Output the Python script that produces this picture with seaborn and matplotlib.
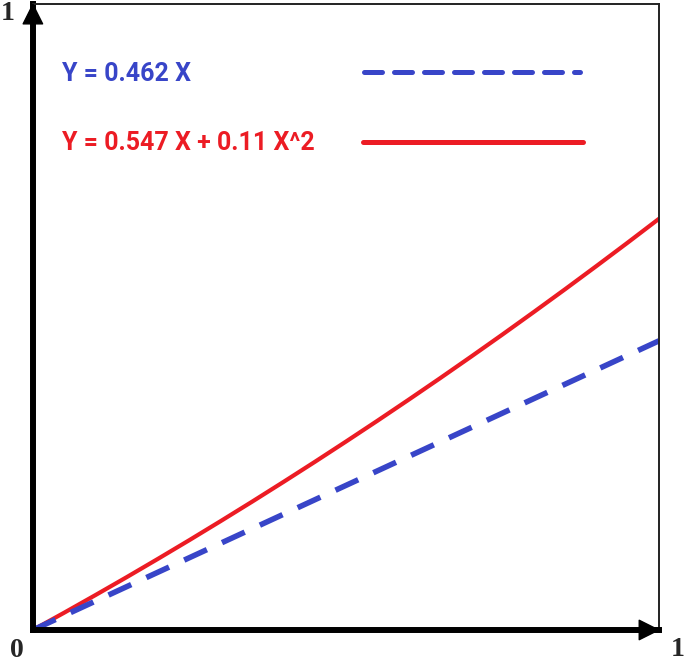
import seaborn as sns
import pandas as pd
import matplotlib.pyplot as plt
import numpy as np

# values
x_lin = [0.0, 1.0]
y_lin = [0.0, 0.462]
x_quad = [0.0, 0.05, 0.1, 0.15, 0.2, 0.25, 0.3, 0.35, 0.4, 0.45, 0.5,
          0.55, 0.6, 0.65, 0.7, 0.75, 0.8, 0.85, 0.9, 0.95, 1.0]
y_quad = [0.0, 0.0276, 0.0558, 0.0845, 0.1138, 0.1436, 0.1740, 0.2049, 0.2364, 0.2684, 0.3010,
          0.3341, 0.3678, 0.4020, 0.4368, 0.4721, 0.5080, 0.5444, 0.5814, 0.6189, 0.657]
labels = ['Y = 0.462 X', 'Y = 0.547 X + 0.11 X^2']

blue = '#3845c8'
red = '#ec1c24'

sns.set_style('white')
fig = plt.figure(figsize=(6.85, 6.63), dpi=100)
ax = fig.add_axes([0.048, 0.0498, 0.914, 0.944])

df_lin = pd.DataFrame({'x': x_lin, 'y': y_lin})
df_quad = pd.DataFrame({'x': x_quad, 'y': y_quad})
sns.lineplot(data=df_quad, x='x', y='y', ax=ax, color=red, lw=3.0)
sns.lineplot(data=df_lin, x='x', y='y', ax=ax, color=blue, lw=4.0,
             linestyle=(0, (4.5, 3.0)))

ax.set_xlim(0, 1)
ax.set_ylim(0, 1)
ax.set_xticks([])
ax.set_yticks([])
ax.set_xlabel('')
ax.set_ylabel('')

for s in ['top', 'right']:
    ax.spines[s].set_linewidth(1.4)
    ax.spines[s].set_color('#222222')
for s in ['left', 'bottom']:
    ax.spines[s].set_linewidth(4.3)
    ax.spines[s].set_color('black')
    ax.spines[s].set_capstyle('projecting')

# arrow heads
arr = dict(arrowstyle='-|>,head_length=0.7,head_width=0.35', mutation_scale=20,
           lw=1, color='black', shrinkA=0, shrinkB=0)
ax.annotate('', xy=(0, 1.002), xytext=(0, 0.95), xycoords='axes fraction',
            arrowprops=arr, annotation_clip=False)
ax.annotate('', xy=(1.002, 0), xytext=(0.95, 0), xycoords='axes fraction',
            arrowprops=arr, annotation_clip=False)

# legend-like labels
lf = dict(family=['Roboto', 'DejaVu Sans'], fontsize=18, fontweight='bold')
ax.text(0.046, 0.888, labels[0], color=blue, va='center', ha='left', transform=ax.transAxes, **lf)
ax.text(0.046, 0.778, labels[1], color=red, va='center', ha='left', transform=ax.transAxes, **lf)
ax.plot([0.529, 0.874], [0.891, 0.891], transform=ax.transAxes, color=blue, lw=3.6,
        linestyle=(0, (3.6, 2.4)), solid_capstyle='round', dash_capstyle='round')
ax.plot([0.527, 0.879], [0.780, 0.780], transform=ax.transAxes, color=red, lw=3.6,
        solid_capstyle='round')

cf = dict(family=['Liberation Serif', 'DejaVu Serif'], fontsize=20, fontweight='bold',
          ha='center', va='center')
fig.text(0.0117, 0.979, '1', **cf)
fig.text(0.0248, 0.0196, '0', **cf)
fig.text(0.990, 0.0211, '1', **cf)

plt.savefig('out.png', dpi=100)
